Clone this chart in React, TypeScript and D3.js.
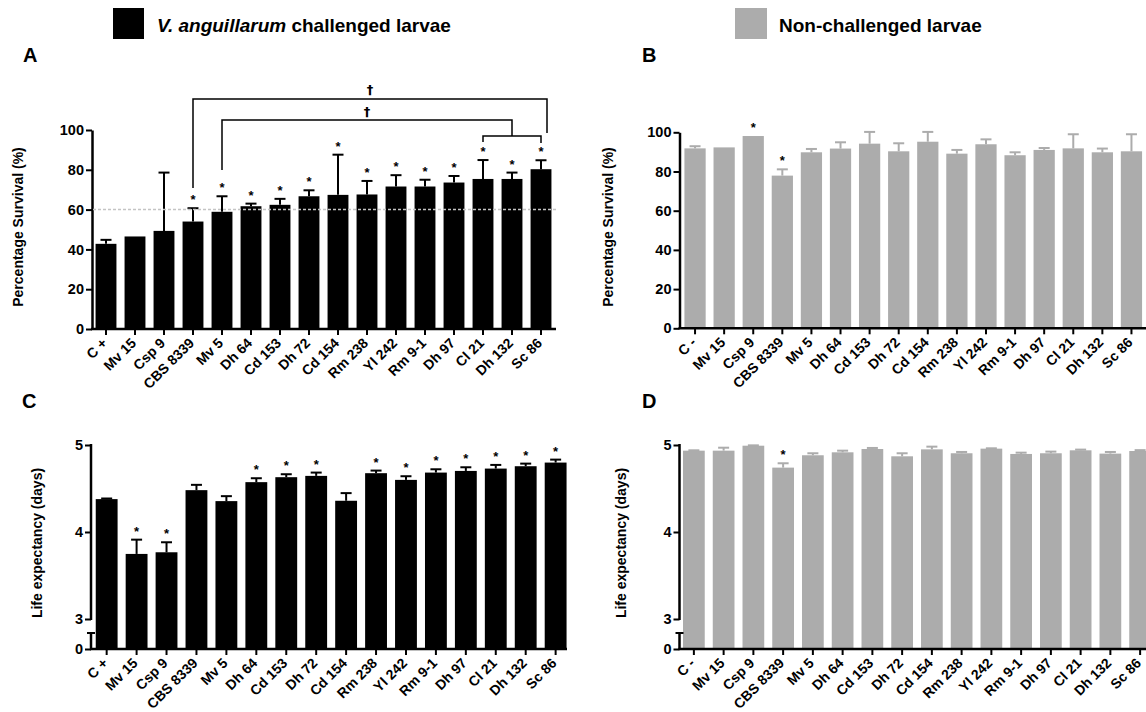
import { useEffect, useRef } from "react";
import * as d3 from "d3";

// strains on the x axis
const strainsChallenged = ["C +", "Mv 15", "Csp 9", "CBS 8339", "Mv 5", "Dh 64", "Cd 153", "Dh 72", "Cd 154", "Rm 238", "Yl 242", "Rm 9-1", "Dh 97", "Cl 21", "Dh 132", "Sc 86"];
const strainsControl = ["C -", "Mv 15", "Csp 9", "CBS 8339", "Mv 5", "Dh 64", "Cd 153", "Dh 72", "Cd 154", "Rm 238", "Yl 242", "Rm 9-1", "Dh 97", "Cl 21", "Dh 132", "Sc 86"];

// A - survival, challenged
const survivalChallenged = [42.8, 46.5, 49.3, 54.0, 58.9, 61.7, 62.4, 66.7, 67.4, 67.6, 71.6, 71.6, 73.6, 75.4, 75.4, 80.3];
const survivalChallengedSd = [2.0, 0, 29.3, 6.7, 7.8, 1.3, 3.0, 3.0, 20.2, 6.8, 5.7, 3.4, 3.3, 9.5, 3.2, 4.5];
const survivalChallengedSig = ["CBS 8339", "Mv 5", "Dh 64", "Cd 153", "Dh 72", "Cd 154", "Rm 238", "Yl 242", "Rm 9-1", "Dh 97", "Cl 21", "Dh 132", "Sc 86"];

// B - survival, non-challenged
const survivalControl = [91.8, 92.3, 98.1, 77.9, 89.8, 91.7, 94.2, 90.3, 95.2, 89.1, 93.9, 88.3, 91.0, 91.8, 89.8, 90.3];
const survivalControlSd = [1.1, 0, 0, 3.2, 1.7, 3.2, 6.0, 4.1, 5.0, 1.9, 2.5, 1.5, 1.0, 7.2, 1.9, 8.7];
const survivalControlSig = ["Csp 9", "CBS 8339"];

// C - life expectancy, challenged
const lifeChallenged = [4.378, 3.748, 3.767, 4.481, 4.355, 4.573, 4.630, 4.645, 4.359, 4.676, 4.599, 4.683, 4.702, 4.729, 4.756, 4.798];
const lifeChallengedSd = [0.007, 0.164, 0.115, 0.061, 0.057, 0.045, 0.034, 0.038, 0.088, 0.030, 0.042, 0.038, 0.042, 0.042, 0.030, 0.034];
const lifeChallengedSig = ["Mv 15", "Csp 9", "Dh 64", "Cd 153", "Dh 72", "Rm 238", "Yl 242", "Rm 9-1", "Dh 97", "Cl 21", "Dh 132", "Sc 86"];

// D - life expectancy, non-challenged
const lifeControl = [4.935, 4.935, 4.992, 4.740, 4.882, 4.916, 4.954, 4.870, 4.950, 4.905, 4.958, 4.897, 4.905, 4.939, 4.901, 4.931];
const lifeControlSd = [0.004, 0.034, 0.004, 0.050, 0.023, 0.019, 0.012, 0.035, 0.031, 0.015, 0.004, 0.015, 0.019, 0.008, 0.019, 0.010];
const lifeControlSig = ["CBS 8339"];

const survivalTicks = [0, 20, 40, 60, 80, 100];
const lifeTicks = [0, 3, 4, 5];
const threshold = 60;

const FONT = "'Liberation Sans', Arial, Helvetica, sans-serif";
const GREY = "#acacac";

function drawPanel(svg: any, p: any) {
    const g = svg.append("g");
    const x = d3.scaleBand().domain(p.cats).range(p.xRange).paddingInner(p.pad).paddingOuter(p.pad / 2);
    const y = p.y;
    const bw = x.bandwidth();

    g.selectAll("rect.bar").data(p.values).join("rect")
        .attr("class", "bar")
        .attr("x", (d: number, i: number) => x(p.cats[i]))
        .attr("y", (d: number) => y(d))
        .attr("width", bw)
        .attr("height", (d: number) => y(0) - y(d))
        .attr("fill", p.color);

    const eb = g.append("g").attr("stroke", p.color).attr("stroke-width", 2);
    p.values.forEach((v: number, i: number) => {
        const sd = p.sd[i];
        if (!sd) return;
        const cx = x(p.cats[i])! + bw / 2;
        eb.append("line").attr("x1", cx).attr("x2", cx).attr("y1", y(v)).attr("y2", y(v + sd));
        eb.append("line").attr("x1", cx - 5.5).attr("x2", cx + 5.5).attr("y1", y(v + sd)).attr("y2", y(v + sd));
    });

    p.sig.forEach((name: string) => {
        const i = p.cats.indexOf(name);
        const top = y(p.values[i] + p.sd[i]);
        g.append("text")
            .attr("x", x(name)! + bw / 2)
            .attr("y", top - 4)
            .attr("text-anchor", "middle")
            .attr("font-family", FONT)
            .attr("font-weight", "bold")
            .attr("font-size", 13)
            .text("*");
    });

    // x axis
    const gx = g.append("g")
        .attr("transform", `translate(0, ${y(0)})`)
        .call(d3.axisBottom(x).tickSize(6).tickSizeOuter(0));
    gx.select(".domain").remove();
    gx.attr("font-family", FONT).attr("font-size", 14).attr("font-weight", "bold");
    gx.selectAll("line").attr("stroke", "#000").attr("stroke-width", 2);
    gx.selectAll("text")
        .attr("fill", "#000")
        .attr("x", 0).attr("y", 0).attr("dy", 0)
        .attr("text-anchor", "end")
        .attr("transform", "translate(2, 15) rotate(-45)");
    g.append("line")
        .attr("x1", p.axisX - 1).attr("x2", p.xEnd)
        .attr("y1", y(0)).attr("y2", y(0))
        .attr("stroke", "#000").attr("stroke-width", 2.5);

    // y axis
    const gy = g.append("g")
        .attr("transform", `translate(${p.axisX}, 0)`)
        .call(d3.axisLeft(y).tickValues(p.yTicks).tickSize(6).tickPadding(2).tickSizeOuter(0).tickFormat(d3.format("d")));
    gy.attr("font-family", FONT).attr("font-size", 14.5).attr("font-weight", "bold");
    gy.selectAll("line").attr("stroke", "#000").attr("stroke-width", 2);
    gy.selectAll("text").attr("fill", "#000");
    gy.select(".domain").attr("stroke", "#000").attr("stroke-width", 2.5);
    if (p.broken) {
        gy.select(".domain").remove();
        gy.append("line").attr("x1", 0).attr("x2", 0).attr("y1", y(5) - 1).attr("y2", y(3) + 1)
            .attr("stroke", "#000").attr("stroke-width", 2.5);
        gy.append("line").attr("x1", 0).attr("x2", 0).attr("y1", y(0) - 16).attr("y2", y(0))
            .attr("stroke", "#000").attr("stroke-width", 2.5);
        gy.append("line").attr("x1", -4).attr("x2", 4).attr("y1", y(0) - 16).attr("y2", y(0) - 16)
            .attr("stroke", "#000").attr("stroke-width", 2);
    }

    g.append("text")
        .attr("transform", `translate(${p.labelX}, ${p.labelY}) rotate(-90)`)
        .attr("text-anchor", "middle")
        .attr("dy", "0.35em")
        .attr("font-family", FONT).attr("font-weight", "bold").attr("font-size", 14)
        .text(p.yLabel);

    g.append("text")
        .attr("x", p.letterX).attr("y", p.letterY)
        .attr("font-family", FONT).attr("font-weight", "bold").attr("font-size", 20)
        .text(p.letter);

    return { x, y, bw, g };
}

export default function App() {
    const ref = useRef<SVGSVGElement>(null);
    useEffect(() => {
        document.body.style.margin = "0";
        const svg = d3.select(ref.current);
        svg.selectAll("*").remove();

        // legend
        svg.append("rect").attr("x", 113).attr("y", 8).attr("width", 31).attr("height", 31).attr("fill", "#000");
        const lt = svg.append("text").attr("x", 157).attr("y", 32)
            .attr("font-family", FONT).attr("font-weight", "bold").attr("font-size", 19);
        lt.append("tspan").attr("font-style", "italic").text("V. anguillarum");
        lt.append("tspan").text(" challenged larvae");
        svg.append("rect").attr("x", 735).attr("y", 8).attr("width", 32).attr("height", 31).attr("fill", GREY);
        svg.append("text").attr("x", 779).attr("y", 32)
            .attr("font-family", FONT).attr("font-weight", "bold").attr("font-size", 19)
            .text("Non-challenged larvae");

        const ySurvA = d3.scaleLinear().domain([0, 100]).range([329, 130]);
        const ySurvB = d3.scaleLinear().domain([0, 100]).range([328.3, 132.3]);
        const yLife = d3.scaleLinear().domain([0, 3, 5]).range([649, 619, 445]);

        const A = drawPanel(svg, {
            cats: strainsChallenged, values: survivalChallenged, sd: survivalChallengedSd, sig: survivalChallengedSig,
            color: "#000", xRange: [91.5, 555.5], pad: 0.28, y: ySurvA, yTicks: survivalTicks,
            axisX: 92, xEnd: 556, yLabel: "Percentage Survival (%)", labelX: 18.5, labelY: 227,
            letter: "A", letterX: 23, letterY: 62,
        });
        drawPanel(svg, {
            cats: strainsControl, values: survivalControl, sd: survivalControlSd, sig: survivalControlSig,
            color: GREY, xRange: [680.5, 1146], pad: 0.27, y: ySurvB, yTicks: survivalTicks,
            axisX: 679.5, xEnd: 1146, yLabel: "Percentage Survival (%)", labelX: 608, labelY: 227,
            letter: "B", letterX: 642, letterY: 62,
        });
        drawPanel(svg, {
            cats: strainsChallenged, values: lifeChallenged, sd: lifeChallengedSd, sig: lifeChallengedSig,
            color: "#000", xRange: [91.7, 570.6], pad: 0.27, y: yLife, yTicks: lifeTicks, broken: true,
            axisX: 91, xEnd: 567, yLabel: "Life expectancy (days)", labelX: 37, labelY: 543,
            letter: "C", letterX: 22, letterY: 408,
        });
        drawPanel(svg, {
            cats: strainsControl, values: lifeControl, sd: lifeControlSd, sig: lifeControlSig,
            color: GREY, xRange: [679, 1155], pad: 0.27, y: yLife, yTicks: lifeTicks, broken: true,
            axisX: 679.5, xEnd: 1146, yLabel: "Life expectancy (days)", labelX: 621, labelY: 543,
            letter: "D", letterX: 642, letterY: 408,
        });

        // 60% threshold line in A
        A.g.append("line")
            .attr("x1", 93).attr("x2", 556)
            .attr("y1", ySurvA(threshold)).attr("y2", ySurvA(threshold))
            .attr("stroke", "#c4c4c4").attr("stroke-width", 1.5).attr("stroke-dasharray", "3,2");

        // comparison brackets in A
        const cx = (name: string) => A.x(name)! + A.bw / 2;
        const br = A.g.append("g").attr("fill", "none").attr("stroke", "#000").attr("stroke-width", 1.5);
        const outerL = cx("CBS 8339"), outerR = cx("Sc 86") + 6;
        br.append("path").attr("d", `M${outerL},188V99H${outerR}V133`);
        const innerL = cx("Mv 5"), innerR = cx("Dh 132");
        br.append("path").attr("d", `M${innerL},170V120H${innerR}V136`);
        br.append("path").attr("d", `M${cx("Cl 21")},142V136H${cx("Sc 86")}V143`);
        const dag = A.g.append("g").attr("font-family", "'DejaVu Sans', sans-serif").attr("font-size", 13)
            .attr("font-weight", "bold").attr("fill", "#000").attr("text-anchor", "middle");
        dag.append("text").attr("x", (outerL + outerR) / 2).attr("y", 94).text("\u2020");
        dag.append("text").attr("x", (innerL + innerR) / 2).attr("y", 116).text("\u2020");
    }, []);

    return <svg ref={ref} width={1146} height={712} style={{ display: "block", background: "#fff" }} />;
}
